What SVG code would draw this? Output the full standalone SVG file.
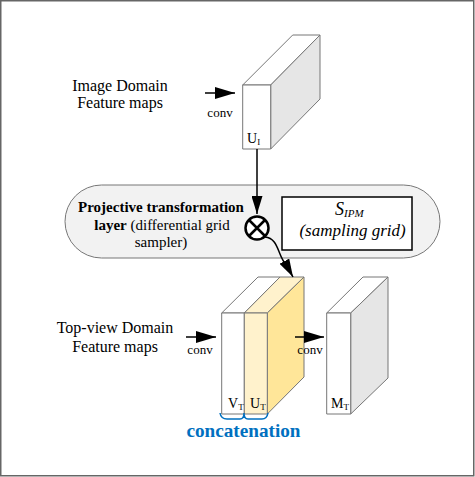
<svg xmlns="http://www.w3.org/2000/svg" width="475" height="477" viewBox="0 0 475 477">
<style>
.t{font-family:"Liberation Serif","Times New Roman",serif;fill:#000}
.box{stroke:#777;stroke-width:1;stroke-linejoin:round}
.ln{stroke:#000;stroke-width:1.5;fill:none}
</style>
<defs>
<marker id="ah" markerUnits="userSpaceOnUse" markerWidth="20" markerHeight="12" refX="20" refY="6" orient="auto">
<path d="M0,0 L20,6 L0,12 z" fill="#000"/>
</marker>
<marker id="ah2" markerUnits="userSpaceOnUse" markerWidth="18" markerHeight="11" refX="18" refY="5.5" orient="auto">
<path d="M0,0 L18,5.5 L0,11 z" fill="#000"/>
</marker>
</defs>
<rect x="0.75" y="0.75" width="473" height="475" fill="#fff" stroke="#666" stroke-width="1.5"/>

<g id="image-domain-label">
<text class="t" x="120" y="91" font-size="16" text-anchor="middle">Image Domain</text>
<text class="t" x="120" y="108" font-size="16" text-anchor="middle">Feature maps</text>
<text class="t" x="220" y="117" font-size="13" text-anchor="middle">conv</text>
</g>

<g id="UI">
<polygon class="box" points="242.7,85 292.7,35 320,35 270.7,85" fill="#fff"/>
<polygon class="box" points="270.7,85 320,35 320,99 270.7,149" fill="#e6e6e6"/>
<rect class="box" x="242.7" y="85" width="28" height="64" fill="#fff"/>
<text class="t" x="247" y="143" font-size="14">U<tspan font-size="9" dy="2">I</tspan></text>
</g>

<g id="projective-layer">
<rect x="65" y="185" width="375" height="73" rx="36.5" ry="36.5" fill="#f2f2f2" stroke="#777" stroke-width="1"/>
<text class="t" x="161" y="212" font-size="15" text-anchor="middle" font-weight="bold">Projective transformation</text>
<text class="t" x="162" y="229.5" font-size="15" text-anchor="middle"><tspan font-weight="bold">layer</tspan> (differential grid</text>
<text class="t" x="161" y="247" font-size="15" text-anchor="middle">sampler)</text>
</g>

<g id="sampling-grid">
<rect x="282" y="197" width="130" height="53" fill="#fff" stroke="#000" stroke-width="1.5"/>
<text class="t" x="335" y="215" font-size="18" font-style="italic">S<tspan font-size="11" dy="2">IPM</tspan></text>
<text class="t" x="352.5" y="236" font-size="17" text-anchor="middle" font-style="italic">(sampling grid)</text>
</g>

<g id="multiply">
<circle cx="257" cy="228" r="11.5" fill="#fff" stroke="#000" stroke-width="2.5"/>
<path d="M249,220 L265,236 M265,220 L249,236" stroke="#000" stroke-width="2.5"/>
</g>

<g id="top-view-label">
<text class="t" x="115" y="333" font-size="16" text-anchor="middle">Top-view Domain</text>
<text class="t" x="115" y="352" font-size="16" text-anchor="middle">Feature maps</text>
<text class="t" x="200" y="354" font-size="13" text-anchor="middle">conv</text>
</g>

<g id="VT-UT">
<polygon class="box" points="221.7,313 258,277 280,277 244.3,313" fill="#fff"/>
<polygon class="box" points="244.3,313 280,277 304,277 267.3,313" fill="#fff2cc"/>
<polygon class="box" points="267.3,313 304,277 304,377 267.3,414" fill="#ffe699"/>
<rect class="box" x="221.7" y="313" width="22.6" height="101" fill="#fff"/>
<rect class="box" x="244.3" y="313" width="23" height="101" fill="#fff2cc"/>
<text class="t" x="228" y="408" font-size="14">V<tspan font-size="9" dy="2">T</tspan></text>
<text class="t" x="250" y="408" font-size="14">U<tspan font-size="9" dy="2">T</tspan></text>
</g>

<g id="MT">
<polygon class="box" points="326.7,313 363,277 388,277 350.7,313" fill="#fff"/>
<polygon class="box" points="350.7,313 388,277 388,378 350.7,414" fill="#e6e6e6"/>
<rect class="box" x="326.7" y="313" width="24" height="101" fill="#fff"/>
<text class="t" x="331" y="408" font-size="14">M<tspan font-size="9" dy="2">T</tspan></text>
<text class="t" x="310" y="354" font-size="13" text-anchor="middle">conv</text>
</g>

<g id="concatenation">
<path d="M220,413 Q221,419 227,419 L240,419 Q244,419 244,413 Q244,419 248,419 L262,419 Q267,419 268,413" fill="none" stroke="#0070c0" stroke-width="1.5"/>
<text x="243.5" y="437" font-family="Liberation Serif,serif" font-size="19" font-weight="bold" fill="#0070c0" text-anchor="middle" textLength="114" lengthAdjust="spacingAndGlyphs">concatenation</text>
</g>

<g id="connectors">
<line class="ln" x1="205" y1="93" x2="235" y2="93" marker-end="url(#ah)"/>
<line class="ln" x1="257" y1="149" x2="257" y2="214" marker-end="url(#ah2)"/>
<path class="ln" d="M265,237 C275,238 277,247 280,254 C283,262 287,266 293,277" marker-end="url(#ah2)"/>
<line class="ln" x1="186" y1="337" x2="216" y2="337" marker-end="url(#ah)"/>
<line class="ln" x1="295" y1="337" x2="324" y2="337" marker-end="url(#ah)"/>
</g>
</svg>
